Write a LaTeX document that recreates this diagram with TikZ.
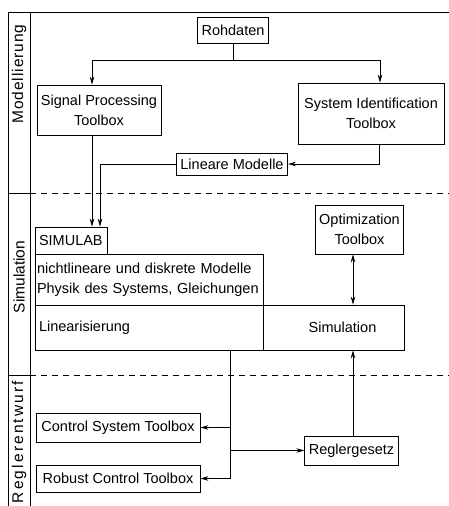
\documentclass[tikz,border=0pt]{standalone}
\usepackage{fontspec}
\setmainfont{Liberation Sans}
\newfontfamily\sidefont{Liberation Sans}[LetterSpace=6]
\newfontfamily\sidewide{Liberation Sans}[LetterSpace=14]
\usetikzlibrary{arrows.meta}

\tikzset{
  box/.style={draw, line width=0.8pt, inner xsep=4pt, inner ysep=2pt,
    font=\fontsize{14.5}{20}\selectfont},
  side/.style={rotate=90, font=\fontsize{15.5}{18}\selectfont},
  rule/.style={line width=0.7pt},
  sep/.style={line width=0.7pt, dash pattern=on 6pt off 5pt},
  flow/.style={line width=0.7pt, -{Stealth[length=8pt,width=4.5pt]}},
}

\begin{document}
\begin{tikzpicture}[x=1pt,y=-1pt]
\useasboundingbox (0,0) rectangle (449,506);
% frame and bands
\draw[rule] (449,12) -- (8,12) -- (8,506);
\draw[rule] (30,12) -- (30,506);
\draw[rule] (8,193) -- (30,193);
\draw[rule] (8,375) -- (30,375);
\draw[sep] (30,193) -- (449,193);
\draw[sep] (30,375) -- (449,375);
\node[side] (modl) at (19,74) {\sidefont Modellierung};
\node[side] (siml) at (19,277) {Simulation};
\node[side] (regl) at (19,442) {\sidewide Reglerentwurf};

% Modellierung
\node[box, minimum width=62, minimum height=26] (roh) at (233,30) {Rohdaten};
\node[box, minimum width=122, minimum height=50, align=center] (spt) at (99,110)
  {Signal Processing\\Toolbox};
\node[box, minimum width=146, minimum height=61, align=center] (sit) at (371,113.5)
  {System Identification\\Toolbox};
\node[box, minimum width=110, minimum height=22] (lin) at (232,164) {Lineare Modelle};

% Simulation
\node[box, text width=64, minimum height=27, align=left] (simlab) at (71,240.5) {SIMULAB};
\node[box, inner xsep=2pt, text width=224, minimum height=51, align=left] (nl) at (149,279.5)
  {nichtlineare und diskrete Modelle\\Physik des Systems, Gleichungen};
\node[box, text width=220, minimum height=45, align=left] (linbox) at (149,327.5)
  {\raisebox{-3pt}{Linearisierung}};
\node[box, text width=133, minimum height=45, align=center] (simbox) at (333.5,327.5)
  {\hspace*{18pt}Simulation};
\node[box, minimum width=85, minimum height=49, align=center] (opt) at (359.5,229.5)
  {Optimization\\Toolbox};

% Reglerentwurf
\node[box, minimum width=164, minimum height=29] (cst) at (118,427.5) {Control System Toolbox};
\node[box, minimum width=164, minimum height=27] (rct) at (118,478.5) {Robust Control Toolbox};
\node[box, minimum width=91, minimum height=29] (rg) at (351.5,450.5) {Reglergesetz};

% connectors
\coordinate (fork) at (233,60);
\draw[rule] (roh.south) -- (fork);
\draw[flow] (fork) -| ([xshift=-7]spt.north);
\draw[flow] (fork) -| ([xshift=9]sit.north);
\draw[flow] ([xshift=8]sit.south) |- (lin.east);
\draw[flow] (lin.west) -| ([xshift=29]simlab.north);
\draw[flow] ([xshift=-7]spt.south) -- ([xshift=21]simlab.north);
\draw[line width=0.7pt, {Stealth[length=8pt,width=4.5pt]}-{Stealth[length=8pt,width=4.5pt]}]
  ([xshift=-6.5]opt.south) -- ([xshift=19.5]simbox.north);
\draw[flow] ([xshift=1.5]rg.north) -- ([xshift=19.5]simbox.south);
\coordinate (down) at ([xshift=81]linbox.south);
\draw[rule] (down) -- (down |- rct.east);
\draw[flow] (down |- cst.east) -- (cst.east);
\draw[flow] (down |- rct.east) -- (rct.east);
\draw[flow] (down |- rg.west) -- (rg.west);
\end{tikzpicture}
\end{document}
